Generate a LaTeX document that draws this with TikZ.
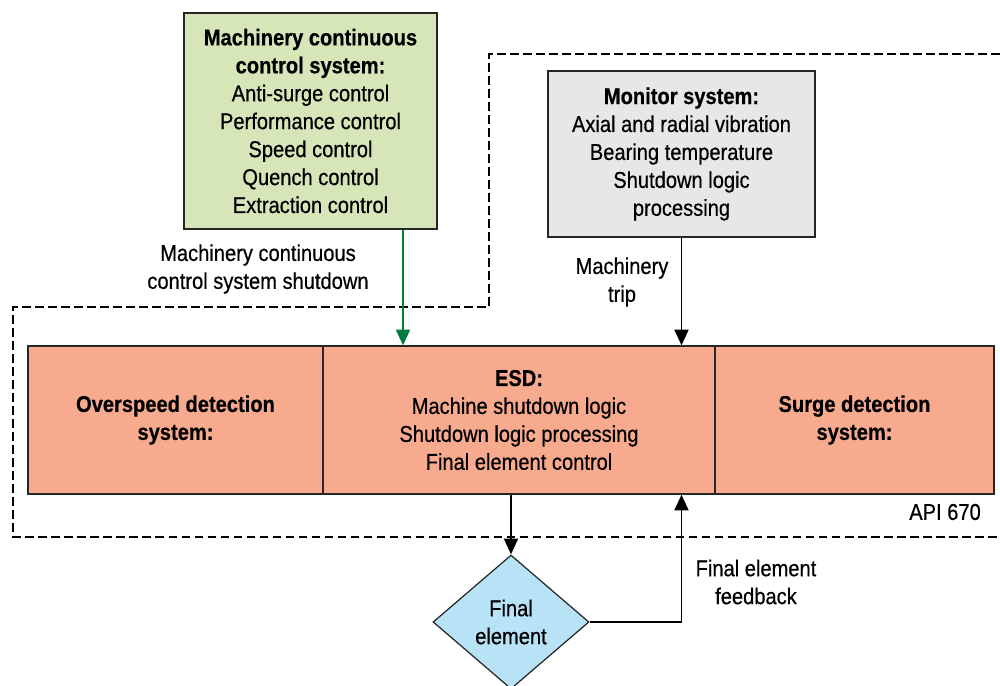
\documentclass[tikz,border=0pt]{standalone}
\usepackage{fontspec}
\setmainfont{Liberation Sans}[FakeStretch=0.88,FakeBold=0.5]
\usetikzlibrary{arrows.meta,shapes.geometric}

\definecolor{ccsgreen}{RGB}{215,230,184}
\definecolor{mongray}{RGB}{230,231,232}
\definecolor{esdsalmon}{RGB}{247,170,142}
\definecolor{feblue}{RGB}{184,226,246}
\definecolor{arrowgreen}{RGB}{0,122,61}

\tikzset{
    sysbox/.style={draw=black!85,line width=0.7pt,align=center,inner sep=0pt,
        font=\fontsize{13}{15.9}\selectfont},
    flowlabel/.style={align=center,font=\fontsize{13}{15.9}\selectfont},
    boundary/.style={line width=1.4pt,dash pattern=on 5pt off 2.4pt},
    flow/.style={line width=1pt,-{Triangle[length=9pt,width=8pt]}}
}

\begin{document}
\begin{tikzpicture}
            \useasboundingbox (0,0) rectangle (20,13.7);

            % boundary of API 670 scope
            \draw[boundary] (20,12.62) -- (9.78,12.62) -- (9.78,7.56) -- (0.26,7.56)
                -- (0.26,2.96) -- (20,2.96);

            \node[sysbox,fill=ccsgreen,minimum width=5.06cm,minimum height=4.32cm] (ccs) at (6.21,11.28)
                {\textbf{Machinery continuous}\\\textbf{control system:}\\Anti-surge control\\Performance control\\Speed control\\Quench control\\Extraction control};
            \node[sysbox,fill=mongray,minimum width=5.34cm,minimum height=3.32cm] (mon) at (13.63,10.62)
                {\textbf{Monitor system:}\\Axial and radial vibration\\Bearing temperature\\Shutdown logic\\processing};

            \node[sysbox,fill=esdsalmon,minimum width=5.90cm,minimum height=2.96cm] (osd) at (3.51,5.30)
                {\textbf{Overspeed detection}\\\textbf{system:}};
            \node[sysbox,fill=esdsalmon,minimum width=7.84cm,minimum height=2.96cm] (esd) at (10.38,5.30)
                {\textbf{ESD:}\\Machine shutdown logic\\Shutdown logic processing\\Final element control};
            \node[sysbox,fill=esdsalmon,minimum width=5.58cm,minimum height=2.96cm] (sds) at (17.09,5.30)
                {\textbf{Surge detection}\\\textbf{system:}};

            \node[sysbox,shape=diamond,fill=feblue,minimum width=3.12cm,minimum height=2.68cm] (fe) at (10.22,1.26)
                {Final\\element};

            \node[flowlabel] (ccslbl) at (5.16,8.32) {Machinery continuous\\control system shutdown};
            \node[flowlabel] (triplbl) at (12.44,8.06) {Machinery\\trip};
            \node[flowlabel,anchor=east] (api) at (19.74,3.46) {API 670};
            \node[flowlabel] (fblbl) at (15.12,2.06) {Final element\\feedback};

            \draw [flow,arrowgreen] (ccs.south -| 8.06,0) -- (esd.north -| 8.06,0);
            \draw [flow] (mon.south) -- (mon.south |- esd.north);
            \draw [flow] (esd.south -| fe.north) -- (fe.north);
            \draw [flow] (fe.east) -| (esd.south -| mon.south);
        \end{tikzpicture}
\end{document}
